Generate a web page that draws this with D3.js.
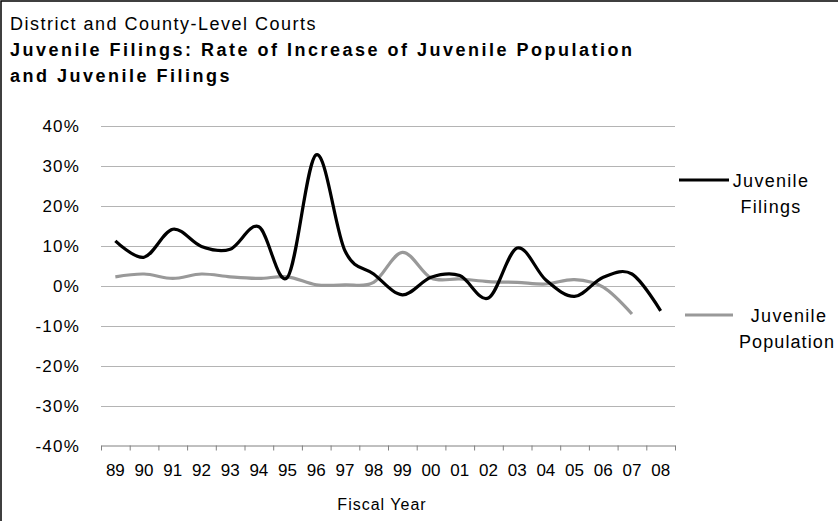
<!DOCTYPE html>
<html>
<head>
<meta charset="utf-8">
<script src="https://cdn.jsdelivr.net/npm/d3@7"></script>
<style>
  body { margin: 0; background: #fff; }
  text { font-family: "Liberation Sans", Arial, sans-serif; fill: #000; }
</style>
</head>
<body>
<div id="chart"></div>
<script>
const years = ["89", "90", "91", "92", "93", "94", "95", "96", "97", "98",
    "99", "00", "01", "02", "03", "04", "05", "06", "07", "08"]
// percent change
const filings = [11.3, 7.2, 14.2, 9.9, 9.2, 14.8, 2.2, 32.8, 8.8, 3.0,
    -2.2, 2.2, 2.6, -3.0, 9.5, 1.5, -2.6, 2.2, 3.0, -6.2]
const population = [2.3, 3.0, 1.9, 3.0, 2.3, 1.9, 2.3, 0.3, 0.3, 0.9,
    8.4, 2.0, 1.75, 1.1, 0.9, 0.5, 1.6, -0.3, -7.0]
const yTicks = [40, 30, 20, 10, 0, -10, -20, -30, -40]

const W = 838, H = 521
const plot = {left: 101, right: 675, top: 126, bottom: 446}

let svg = d3.select("#chart").append("svg")
    .attr("width", W).attr("height", H)

// outer frame (only top/left edges are visible in the crop)
svg.append("rect").attr("x", 1).attr("y", 1)
    .attr("width", W + 20).attr("height", H + 20)
    .attr("fill", "none").attr("stroke", "#000").attr("stroke-width", 1.5)

// titles - the source renders text quite wide, hence the letter spacing
svg.append("text").attr("x", 10).attr("y", 30)
    .style("font-size", "18px").style("letter-spacing", "1.5px")
    .text("District and County-Level Courts")
svg.append("text").attr("x", 10).attr("y", 56)
    .style("font-size", "18px").style("font-weight", "bold").style("letter-spacing", "2.5px")
    .text("Juvenile Filings: Rate of Increase of Juvenile Population")
svg.append("text").attr("x", 10).attr("y", 82)
    .style("font-size", "18px").style("font-weight", "bold").style("letter-spacing", "2.5px")
    .text("and Juvenile Filings")

let x = d3.scaleBand().domain(years).range([plot.left, plot.right])
let y = d3.scaleLinear().domain([-40, 40]).range([plot.bottom, plot.top])

// gridlines
svg.append("g").selectAll("line")
    .data(yTicks.filter(d => d !== -40)).enter()
    .append("line")
    .attr("x1", plot.left).attr("x2", plot.right)
    .attr("y1", d => y(d) + 0.5).attr("y2", d => y(d) + 0.5)
    .attr("stroke", "#b4b4b4").attr("stroke-width", 1)

// y labels
svg.append("g").selectAll("text")
    .data(yTicks).enter()
    .append("text")
    .attr("x", 80).attr("y", d => y(d))
    .attr("dy", "0.35em")
    .attr("text-anchor", "end")
    .style("font-size", "17px").style("letter-spacing", "1.2px")
    .text(d => d + "%")

// x axis
let xAxis = svg.append("g")
    .attr("transform", "translate(0," + (plot.bottom - 0.5) + ")")
    .call(d3.axisBottom(x).tickSize(0).tickPadding(0).tickFormat(""))
xAxis.select(".domain").attr("stroke", "#808080")
xAxis.selectAll(".tick").remove()
let tickPos = years.map(d => x(d)).concat([plot.right])
xAxis.selectAll("line.tk").data(tickPos).enter()
    .append("line").attr("class", "tk")
    .attr("x1", d => d + 0.5).attr("x2", d => d + 0.5)
    .attr("y1", 0).attr("y2", 5)
    .attr("stroke", "#808080")
svg.append("g").selectAll("text")
    .data(years).enter()
    .append("text")
    .attr("x", d => x(d) + x.bandwidth() / 2)
    .attr("y", 476)
    .attr("text-anchor", "middle")
    .style("font-size", "17px")
    .text(d => d)

svg.append("text").attr("x", 382).attr("y", 510)
    .attr("text-anchor", "middle")
    .style("font-size", "16px").style("letter-spacing", "1px").text("Fiscal Year")

// lines
const line = d3.line()
    .x((d, i) => x(years[i]) + x.bandwidth() / 2)
    .y(d => y(d))
    .curve(d3.curveCardinal.tension(0))

svg.append("path").datum(population)
    .attr("d", line)
    .attr("fill", "none").attr("stroke", "#999999").attr("stroke-width", 3.2)
svg.append("path").datum(filings)
    .attr("d", line)
    .attr("fill", "none").attr("stroke", "#000").attr("stroke-width", 3.2)

// legend
svg.append("line").attr("x1", 679).attr("x2", 729).attr("y1", 180).attr("y2", 180)
    .attr("stroke", "#000").attr("stroke-width", 3.2)
svg.append("text").attr("x", 771).attr("y", 187).attr("text-anchor", "middle")
    .style("font-size", "18px").style("letter-spacing", "1.3px").text("Juvenile")
svg.append("text").attr("x", 771).attr("y", 213).attr("text-anchor", "middle")
    .style("font-size", "18px").style("letter-spacing", "1.3px").text("Filings")

svg.append("line").attr("x1", 685).attr("x2", 733).attr("y1", 315).attr("y2", 315)
    .attr("stroke", "#999999").attr("stroke-width", 3.2)
svg.append("text").attr("x", 789).attr("y", 322).attr("text-anchor", "middle")
    .style("font-size", "18px").style("letter-spacing", "1.3px").text("Juvenile")
svg.append("text").attr("x", 787).attr("y", 348).attr("text-anchor", "middle")
    .style("font-size", "18px").style("letter-spacing", "1.1px").text("Population")
</script>
</body>
</html>
